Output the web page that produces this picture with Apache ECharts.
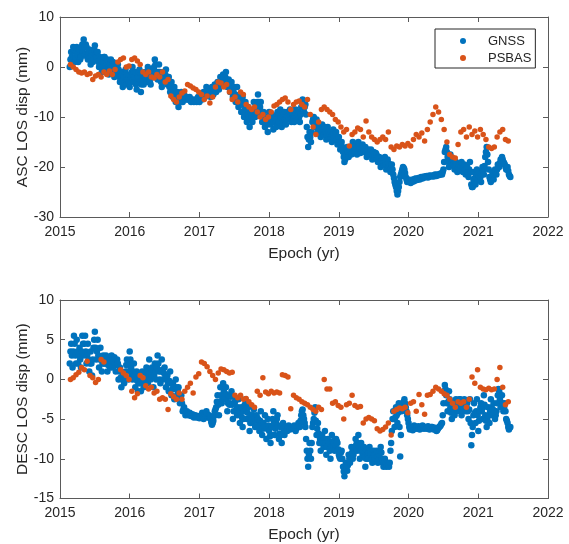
<!DOCTYPE html>
<html>
<head>
<meta charset="utf-8">
<script src="https://cdn.jsdelivr.net/npm/echarts@6.0.0/dist/echarts.min.js"></script>
<style>html,body{margin:0;padding:0;background:#fff}#chart{width:569px;height:544px}</style>
</head>
<body>
<div id="chart"></div>
<script>
// Sampling epochs (decimal years)
const gnssStart = 2015.14, gnssStep = 0.01;
const psbasStart = 2015.15, psbasStep = 0.04;

const xTicks = [2015, 2016, 2017, 2018, 2019, 2020, 2021, 2022];
const ascTicks = [-30, -20, -10, 0, 10];
const descTicks = [-15, -10, -5, 0, 5, 10];

// ASC LOS displacement (mm)
const ascGNSS = [
 0, 1.5, 3, 2, 1.5, 4, 3.5, 1, 2, 3,
 4, 2.5, 1, 3, 3.5, 1.5, 2, 4, 4.5, 3,
 5.5, 4, 2.5, 4.5, 4, 2, 1.5, 3, 3.5, 2,
 0.5, 2, 3, 1, 1.5, 3.5, 4.3, 2.5, 2, 3,
 3, 1, 0, 2, 1.5, 0, -1, 0.5, 1, 2,
 2, 0.5, -0.5, 1, 1.5, -0.5, -1.5, 0, 0.5, 1.5,
 -1, 0, 1, -1, -2, -0.5, 0, -1, -1.5, 0.5,
 -0.5, -2, -3, -1.5, -1, -3, -4, -2.5, -2, -1,
 -0.5, -2, -3.5, -2.5, -1.5, -3, -4, -3, -2, -1,
 0, -1.5, -3, -2, -1, -3.5, -4.5, -3, -2, -1,
 -0.5, -3, -5, -3.5, -2, -2.5, -3.5, -2, -1, -2,
 -3, -1.5, 0, -1, -2, -3, -3.5, -1.5, -0.5, -2,
 -2, 0, 1.5, 0.5, -1, -2, -2.5, -1, 0.5, -1,
 -2, -3, -4, -2.5, -1, -2, -3, -1.5, -0.5, -2,
 -3.5, -2.5, -2, -4, -5, -4, -3, -4.5, -6, -5,
 -4, -5.5, -7, -6, -5, -7, -8, -7, -6.5, -5.5,
 -5, -6, -7, -6, -5.5, -6, -6.5, -6, -6, -6.5,
 -6.5, -6.2, -6, -6.5, -7, -6.8, -6.5, -6.8, -7, -6.8,
 -6.5, -6.8, -7, -6.5, -6, -6.5, -7, -6.2, -5.5, -6,
 -6.5, -5.8, -5, -5.5, -6, -5, -4, -4.8, -5.5, -5,
 -4.5, -5.2, -6, -5, -4, -4.8, -5.5, -4.5, -3.5, -4,
 -5, -4, -3, -3.8, -4.5, -3, -2, -2.8, -3.5, -2.5,
 -1.5, -2.2, -3, -2, -1, -2.5, -4, -3, -2.5, -3.5,
 -5, -4, -3, -4.5, -6, -5, -4, -5.5, -7, -6,
 -4, -6, -8, -7, -5.5, -7.5, -9, -7.5, -6, -7,
 -10, -8.5, -7, -9, -11, -9.5, -8, -10, -12, -10.5,
 -9, -10, -11, -9, -7, -8.5, -10, -9, -8, -7,
 -5.5, -7, -9, -8, -7, -9, -11, -10, -9, -10.5,
 -12, -11, -10, -11.5, -13, -11, -9, -10, -11.5, -10.5,
 -9.5, -11, -12.5, -11, -10, -11, -12, -10.5, -9, -10,
 -11, -9.5, -8.5, -10, -12, -11, -10, -9.5, -9, -10.5,
 -11.5, -10, -9, -9.8, -10.5, -9.5, -8.5, -9.8, -11, -10,
 -9.5, -10.2, -11, -9.8, -8.5, -9.2, -10, -9.5, -9, -10,
 -11, -9.5, -8, -7, -6.5, -7.5, -9, -8, -7.5, -9.5,
 -12, -14, -16, -14.5, -13, -14, -15, -13, -11, -10.5,
 -10, -11, -12, -11, -10.5, -11.5, -13, -12.5, -12, -13.5,
 -14, -12.5, -11.5, -12.5, -13.5, -12.5, -12, -13, -14.5, -13.5,
 -12, -13, -14, -13.5, -13, -14, -15, -13.5, -12.5, -13.5,
 -14, -13.5, -13, -14.5, -15.5, -14.5, -14, -15, -16.5, -15.5,
 -15, -16, -17, -18, -19, -18.5, -17.5, -16.5, -16, -17,
 -18, -17, -16, -16.8, -17.5, -16, -15, -15.8, -16.5, -17.2,
 -15.5, -16.5, -17.5, -16, -15, -15.8, -16.5, -17.2, -17, -16,
 -15.5, -16.2, -17, -16.5, -16, -17, -18, -17.2, -16.5, -17.5,
 -17.5, -17, -16.5, -17.5, -18.5, -17.8, -17, -17.5, -18, -17.2,
 -17.5, -18.2, -19, -18.5, -18, -19, -20, -19.2, -18.5, -19.5,
 -19.5, -18.8, -18, -19.2, -20.5, -19.5, -18.5, -19.2, -20, -19.5,
 -21, -20.2, -19.5, -20.5, -21.5, -22.2, -23, -23.5, -24, -24.8,
 -25.5, -24.8, -24, -23, -22, -21.5, -21, -20.5, -20, -20.2,
 -20.5, -21.2, -22, -22.5, -23, -22.8, -22.5, -22.8, -23, -23.2,
 -23, -22.7, -22.5, -22.9, -22.8, -22.4, -22.3, -22.6, -22.6, -22.4,
 -22.2, -22.4, -22.5, -22.2, -22, -22.2, -22.3, -22.1, -21.9, -22.1,
 -22, -21.9, -21.8, -22, -22.1, -21.9, -21.7, -21.8, -21.9, -21.8,
 -21.7, -21.8, -21.9, -21.7, -21.5, -21.6, -21.8, -21.6, -21.5, -21.6,
 -21.6, -21.4, -21.3, -21.4, -21.5, -21, -20.5, -19, -17, -16.5,
 -16, -17, -18, -19, -20, -18.5, -17.5, -18.5, -19.5, -18.5,
 -18.5, -19.5, -20.5, -19.8, -19, -20, -21, -20.2, -19.5, -20,
 -20.5, -19.8, -19, -20, -21, -20.2, -19.5, -20.5, -21.5, -20.5,
 -20, -21, -22, -20.5, -19, -21, -23.5, -24, -24, -22.5,
 -21, -22.2, -23.5, -22, -20.5, -21.5, -22.5, -21.8, -21, -22,
 -23, -21.5, -20, -20.8, -21.5, -19.8, -18, -17, -16, -17.5,
 -19, -20.5, -22, -22.5, -23, -22, -21, -21.8, -22.5, -21.5,
 -20.5, -21, -21.5, -20.5, -19.5, -19.8, -20, -19.2, -18.5, -18.8,
 -18, -18.5, -19, -19.2, -19.5, -20, -20.5, -20.2, -20, -20.8,
 -21.5, -21.8, -22
];
const ascPSBAS = [
 0.5, 0, -0.5, -1, -1.2,
 -1, -1.5, -1.3, -2.5, -1.8,
 -1.5, -2, -1, -1.5, -0.8,
 -1.5, -0.5, 1, 1.5, 1.8,
 0, 0.2, 1.5, 1.8, 1.2,
 0.5, -1, -1.5, -1, -2,
 -2.2, -1.5, -2, -1, -3,
 -2.5, -5.8, -6.5, -7, -6,
 -5.2, -4.8, -3.5, -3.8, -4.2,
 -4.5, -5, -5.5, -6.5, -5.8,
 -7.2, -6, -4, -3, -3.2,
 -4, -3.5, -5, -6.5, -6,
 -7, -5, -5.5, -7.5, -8,
 -8.5, -8, -9, -10, -9.5,
 -10.5, -10, -9, -7.8, -7.5,
 -7, -6.5, -6.2, -7, -8.5,
 -7.5, -7, -6.8, -7.5, -8,
 -6.5, -9.5, -12, -13.5, -11,
 -8.5, -8, -8.5, -9, -9.5,
 -10.5, -11, -12, -13, -12.5,
 -15.8, -13.5, -13, -12.2, -12.5,
 -14, -10.8, -13, -14, -14.5,
 -15, -14.5, -14, -14.5, -13,
 -16, -16.5, -15.8, -16, -15.5,
 -15.8, -15.3, -15.8, -14.5, -13.5,
 -14, -13.2, -14.8, -12.5, -11,
 -9.5, -8, -9, -10.5, -12.5,
 -15, -17.5, -18, -18.2, -15.5,
 -13, -12.5, -14, -12, -13.5,
 -12.8, -14, -12.5, -13.5, -14.5,
 -16, -16.3, -16, -14, -13,
 -12.5, -14.5, -14.8
];

// DESC LOS displacement (mm)
const descGNSS = [
 2, 3.5, 4.5, 3, 1.5, 3.5, 5.5, 4.5, 3, 2,
 5, 3.5, 2, 3, 4, 2.5, 1.5, 3.5, 5.5, 4.5,
 3, 4.5, 5.5, 3.5, 2, 3, 4.5, 2.5, 1, 2,
 3.5, 2, 0.5, 2.5, 4, 5, 6, 4, 2.5, 3.5,
 5, 3, 1.5, 2.5, 4, 2.5, 1, 2, 3, 2,
 2, 2.5, 3, 2, 1, 1.8, 2.5, 2, 1.5, 2.5,
 3, 2.2, 1.5, 2, 2.8, 2, 1, 1.8, 2.5, 2,
 0, 1, 1.5, 0.2, -1, 0, 0.5, 0, -0.5, 0.5,
 1, 1.8, 2.5, 1, 0, 2, 3.5, 2.5, 1.5, 0.5,
 0, 1, 2, 0.5, -1, 0, 1, -0.2, -1.5, -0.5,
 0.5, -0.5, -1.5, 0, 1, 0, -1, -0.5, 0, 0.8,
 1.5, 0.5, -0.5, 1, 2.5, 1.2, 0, 0.8, 1.5, 0.5,
 -1, 0.5, 2, 1, 0, 1.5, 3, 2, 1, 0,
 -0.5, 1, 2.5, 1.2, 0, 0.8, 1.5, 0.2, -1, 0,
 0.5, -0.5, -1.5, -0.2, 1, -0.5, -2, -1.2, -0.5, -1,
 -2.5, -1.2, 0, -1, -2, -1.5, -1, -2, -3, -2.2,
 -2, -3, -4, -3.8, -3.5, -4, -4.5, -4.2, -4, -4.3,
 -4.5, -4.4, -4.2, -4.4, -4.6, -4.5, -4.4, -4.6, -4.8, -4.7,
 -4.5, -4.6, -4.8, -4.7, -4.6, -4.8, -4.9, -4.8, -4.7, -4.5,
 -4.2, -4.6, -5, -4.8, -4.5, -4.2, -4, -4.4, -4.8, -4.6,
 -4.5, -4.8, -5, -5.4, -5.7, -5.5, -5.2, -4.6, -4, -3.8,
 -3.5, -2.8, -2, -3.2, -4.5, -2.8, -1, -2, -3, -2.5,
 -0.5, -1.5, -2.5, -1.8, -1, -2.5, -4, -3, -2, -3.2,
 -3, -2.2, -1.5, -3.2, -5, -4, -3, -2.8, -2.5, -3.8,
 -4.5, -3.5, -2.5, -4, -5.5, -4.5, -3.5, -4.8, -6, -5,
 -4, -3.2, -2.5, -3.8, -5, -4.2, -3.5, -5, -6.5, -5.5,
 -4.5, -5, -5.5, -4.5, -3.8, -5, -6, -5.2, -4.5, -5,
 -5, -5.8, -6.5, -5.2, -4, -5.5, -7, -6.2, -5.5, -6,
 -4.5, -6, -7.5, -6.2, -5, -5.8, -6.5, -7.2, -8, -7,
 -6, -5, -4, -5.5, -7, -6.2, -5.5, -5, -4.5, -5.8,
 -7.5, -6.8, -6, -7, -8, -6.8, -5.5, -6.2, -7, -6.5,
 -6, -6.2, -6.5, -6.1, -5.8, -6, -6.3, -6.1, -6, -6.2,
 -6.2, -6, -5.8, -6.1, -6.5, -6.2, -6, -5.8, -5.5, -5.8,
 -6, -5.2, -4.5, -4, -3.8, -4.5, -5, -5.5, -6, -7.5,
 -9, -10, -11, -9.5, -8, -9, -10, -8, -6, -5.5,
 -5, -4.2, -3.5, -5.2, -7, -6.2, -5.5, -6.8, -8, -7.5,
 -9, -8, -7, -7.8, -8.5, -7.5, -6.5, -8, -9.5, -8.5,
 -7.5, -7.8, -8, -9, -10, -8.5, -7, -7.8, -8.5, -8,
 -9, -8.2, -7.5, -7.8, -8, -8.8, -9.5, -9.8, -10, -9.2,
 -9, -10, -11, -11.6, -12.2, -11.3, -10.5, -11, -11.5, -10.8,
 -9.5, -10, -10.5, -9.5, -8.5, -9.2, -10, -9.5, -9, -8.5,
 -7.5, -8.2, -9, -8, -7, -8.5, -10, -9, -8, -8.8,
 -9.5, -9, -8.5, -9.8, -11, -10, -9, -9.5, -10, -9.2,
 -8.5, -9, -9.5, -10, -10.5, -9.8, -9, -9.5, -10, -9.3,
 -9, -9.8, -10.5, -10, -9.5, -9, -8.5, -9.2, -10, -10.5,
 -11, -10.5, -10, -10.5, -11, -10.8, -10.5, -10.8, -11, -10.5,
 -9, -8, -6.5, -5, -4, -5, -6, -4.8, -3.5, -4.5,
 -5.5, -4.2, -3, -6, -9.7, -7, -4, -3.5, -3, -2.8,
 -2.5, -3, -3.5, -4, -4.5, -5, -5.5, -6, -6.3, -6.1,
 -6, -6.2, -6.4, -6.1, -5.8, -6, -6.2, -6.1, -6, -6.2,
 -5.9, -6.1, -6.3, -6.2, -6.1, -5.9, -5.8, -6, -6.2, -6.1,
 -6, -6.1, -6.2, -6, -5.9, -6.1, -6.3, -6.2, -6.1, -6,
 -6, -6.2, -6.3, -6.2, -6.1, -6.3, -6.5, -6.4, -6.2, -6.1,
 -6, -5.9, -5.8, -5.6, -5.5, -4.5, -3, -1.5, -0.7, -1.2,
 -2, -3, -4, -2.8, -1.5, -2.5, -3.5, -4.2, -5, -4,
 -3, -3.8, -4.5, -3.5, -2.5, -3.2, -4, -3.5, -3, -2.5,
 -2.5, -3.5, -4.5, -4, -3.5, -3, -2.5, -3.2, -4, -3.5,
 -3, -4, -5, -3.8, -2.5, -5.5, -8.3, -7, -6, -4.5,
 -3, -4.2, -5.5, -4, -2.5, -4.5, -6.5, -5.2, -4, -3.5,
 -3, -4, -5, -3.5, -2, -3.2, -4.5, -5.2, -6, -5,
 -3.5, -4.5, -5.5, -4, -2.5, -3.5, -4.5, -3.8, -3, -4,
 -5, -4.5, -4, -3, -2, -1.2, -1.5, -2.5, -3.5, -3,
 -2, -3, -4, -3.5, -3, -4, -5, -5.2, -5.5, -6,
 -6.3, -6.1, -6
];
const descPSBAS = [
 0, 0.2, 0.6, 0.9, 1.5,
 1.2, 2.3, 0.5, 0.2, -0.4,
 0, 2.5, 2.2, null, null,
 null, null, null, 1.2, 0.8,
 0.5, 0, -1.5, -2.3, -1.8,
 0.5, 0.2, -0.8, -1.2, -1,
 -1.7, -1.5, -2.5, -2.3, -2.5,
 -3.8, -1.8, -2.2, -2.5, -1.7,
 -2.5, -1.5, -1, -0.5, -1.7,
 0.3, 0.7, 2.2, 2, 1.6,
 1, 0.5, 0, 0.8, 1.3,
 1.2, 1, 0.8, 0.9, -2,
 -2.3, -2, -2.5, -2.4, -2.8,
 -3.2, -3.5, -1.5, -2, 0.2,
 -1.6, -1.8, -1.5, -1.7, -1.6,
 -1.7, 0.6, 0.5, 0.3, -3.7,
 -2, -2.3, -2.5, -2.8, -3,
 -3.2, -3.5, -3.8, -4, -3.5,
 -3.8, 0, -1.2, -1.2, -3,
 -2.8, -3.3, -3.5, -5, -3.2,
 -3, -2, -3.3, -3.5, -3.4,
 -5.5, -5, -4.8, -5, -5.2,
 -6.2, -6.5, -6.3, -6, -5.5,
 -7, -4, -3.8, -3.6, -3.7,
 -3.5, -4.2, -3, -2.8, -4,
 -1.9, -3.2, -4.4, -2, -1.9,
 -1.5, -1, -1.2, -1.5, -1.8,
 -2, -2.5, -3, -3.5, -2.8,
 -3, -2.8, -3.5, -2.5, 0.3,
 -0.5, 1.2, -1, -1.2, -1.3,
 -1.1, -1.3, -1.2, 0, 1.5,
 -1, -3.2, -2.8
];

function pairs(start, step, vals) {
  return vals.map((v, i) => [+(start + step * i).toFixed(4), v]).filter(p => p[1] !== null);
}

const FONT = "'Liberation Sans', Arial, sans-serif";
const TXT = '#262626';
const AX = '#5a5a5a';
const BLUE = '#0072BD', ORANGE = '#D95319';

function xAx(grid, pos, labels) {
  return {
    type: 'value', gridIndex: grid, position: pos,
    min: xTicks[0], max: xTicks[xTicks.length - 1], interval: 1,
    axisLine: { show: true, onZero: false, lineStyle: { color: AX, width: 1 } },
    axisTick: { show: true, inside: true, length: 5, lineStyle: { color: AX } },
    axisLabel: { show: labels, margin: 8, fontSize: 14, color: TXT, fontFamily: FONT, formatter: v => String(v) },
    splitLine: { show: false },
    name: labels ? 'Epoch (yr)' : '', nameLocation: 'middle', nameGap: 28.5,
    nameTextStyle: { fontSize: 15.5, color: TXT, fontFamily: FONT }
  };
}
function yAx(grid, pos, ticks, name) {
  return {
    type: 'value', gridIndex: grid, position: pos,
    min: ticks[0], max: ticks[ticks.length - 1], interval: ticks[1] - ticks[0],
    axisLine: { show: true, onZero: false, lineStyle: { color: AX, width: 1 } },
    axisTick: { show: true, inside: true, length: 5, lineStyle: { color: AX } },
    axisLabel: { show: !!name, margin: 6, fontSize: 14, color: TXT, fontFamily: FONT },
    splitLine: { show: false },
    name: name || '', nameLocation: 'middle', nameGap: 29, nameMoveOverlap: false,
    nameTextStyle: { fontSize: 15.5, color: TXT, fontFamily: FONT }
  };
}

const chart = echarts.init(document.getElementById('chart'), null, { renderer: 'canvas' });
chart.setOption({
  animation: false,
  backgroundColor: '#fff',
  grid: [
    { left: 60, top: 17, width: 488, height: 200 },
    { left: 60, top: 300, width: 488, height: 200 }
  ],
  xAxis: [xAx(0, 'bottom', true), xAx(0, 'top', false), xAx(1, 'bottom', true), xAx(1, 'top', false)],
  yAxis: [yAx(0, 'left', ascTicks, 'ASC LOS disp (mm)'), yAx(0, 'right', ascTicks, null),
          yAx(1, 'left', descTicks, 'DESC LOS disp (mm)'), yAx(1, 'right', descTicks, null)],
  legend: {
    left: 435, top: 29, orient: 'vertical',
    data: ['GNSS', 'PSBAS'],
    icon: 'circle', itemWidth: 40, itemHeight: 6, itemGap: 2,
    padding: [4.5, 4, 2.5, 25],
    borderColor: '#262626', borderWidth: 1, backgroundColor: '#fff',
    textStyle: { fontSize: 13, color: TXT, fontFamily: FONT, lineHeight: 15 },
    selectedMode: false
  },
  series: [
    { name: 'GNSS', type: 'scatter', xAxisIndex: 0, yAxisIndex: 0, symbolSize: 6.5,
      itemStyle: { color: BLUE, opacity: 1 }, data: pairs(gnssStart, gnssStep, ascGNSS) },
    { name: 'PSBAS', type: 'scatter', xAxisIndex: 0, yAxisIndex: 0, symbolSize: 5.5,
      itemStyle: { color: ORANGE, opacity: 1 }, data: pairs(psbasStart, psbasStep, ascPSBAS) },
    { name: 'GNSS', type: 'scatter', xAxisIndex: 2, yAxisIndex: 2, symbolSize: 6.5,
      itemStyle: { color: BLUE, opacity: 1 }, data: pairs(gnssStart, gnssStep, descGNSS) },
    { name: 'PSBAS', type: 'scatter', xAxisIndex: 2, yAxisIndex: 2, symbolSize: 5.5,
      itemStyle: { color: ORANGE, opacity: 1 }, data: pairs(psbasStart, psbasStep, descPSBAS) }
  ]
});
</script>
</body>
</html>
